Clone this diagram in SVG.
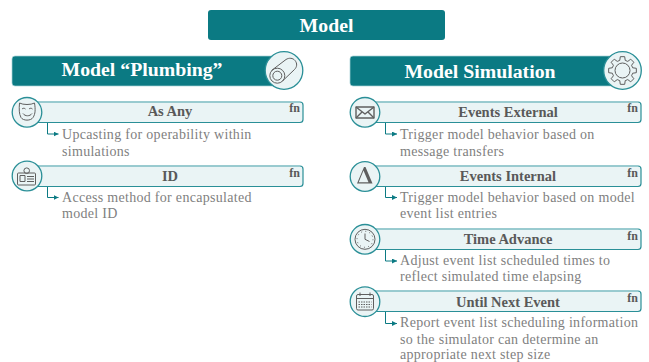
<svg xmlns="http://www.w3.org/2000/svg" width="649" height="362" viewBox="0 0 649 362">
<style>
.bar{fill:#0b7a83}
.sec{stroke:#a6d3d7;stroke-width:.7}
.title{font:bold 19.800px "Liberation Serif",serif;fill:#fff;text-anchor:middle}
.hd{fill:#eaf4f5;stroke:#2a8f97;stroke-width:1.200}
.top{fill:none;stroke:#9ccdd2;stroke-width:1.500}
.h{font:bold 14.500px "Liberation Serif",serif;fill:#595959;text-anchor:middle}
.fn{font:bold 12px "Liberation Serif",serif;fill:#595959;text-anchor:end}
.b{font:14px "Liberation Serif",serif;fill:#7f7f7f;letter-spacing:.3px}
.c{fill:#eaf4f5;stroke:#2a8f97;stroke-width:1.300}
.i{fill:none;stroke:#5f5f5f;stroke-width:1;stroke-linejoin:round}
.l{fill:none;stroke:#0b7a83;stroke-width:1;marker-end:url(#a)}
</style>
<defs>
<marker id="a" markerWidth="6" markerHeight="6" refX="5" refY="2.500" orient="auto" markerUnits="userSpaceOnUse"><path d="M0 0L5 2.500L0 5z" fill="#0b7a83"/></marker>
<path id="gq" d="M13.830 -2.190L13.830 2.190L10.140 2.720L9.090 5.250L11.330 8.230L8.230 11.330L5.250 9.090L2.720 10.140L2.190 13.830"/>
</defs>
<g id="connectors">
<path class="l" d="M47.500 122V134H58.500"/>
<path class="l" d="M47.500 186V197.500H58.500"/>
<path class="l" d="M385.500 122V134H397"/>
<path class="l" d="M385.500 186V197.500H397"/>
<path class="l" d="M385.500 249V261H397"/>
<path class="l" d="M385.500 312V323.500H397"/>
</g>
<g id="model"><rect class="bar" x="208" y="10" width="237" height="30" rx="3"/><text class="title" x="326.500" y="32">Model</text></g>
<g id="plumbing"><rect class="bar sec" x="12" y="56" width="274" height="30" rx="3"/><text class="title" x="142" y="76">Model “Plumbing”</text>
<circle class="c" cx="284" cy="70.500" r="18.800"/>
<g class="i"><circle cx="277.300" cy="75.700" r="7.500"/><circle cx="277.300" cy="75.700" r="4.500"/><path d="M271.500 70.500L286 59.500C289 57.500 293 58 295 60.500C297.500 63.500 297 67 294.500 69.500L282.500 81"/></g></g>
<g id="simulation"><rect class="bar sec" x="350" y="56" width="274" height="30" rx="3"/><text class="title" x="480" y="78">Model Simulation</text>
<circle class="c" cx="622.500" cy="70.500" r="18.800"/>
<g class="i" transform="translate(622.500 70.500)"><circle r="7.500"/><use href="#gq"/><use href="#gq" transform="rotate(90)"/><use href="#gq" transform="rotate(180)"/><use href="#gq" transform="rotate(270)"/></g></g>
<g id="as-any"><rect class="hd" x="27" y="102" width="276" height="20.500" rx="3"/><path class="top" d="M30 102H300"/><text class="h" x="170" y="115.500">As Any</text><text class="fn" x="300" y="112">fn</text>
<circle class="c" cx="27" cy="112.300" r="14.800"/>
<g class="i"><path d="M19.500 103C23 105 31 105 34.500 103C35.500 109 35.500 114 33 117.500C31 121 23 121 21 117.500C19 114 19 109 19.500 103Z"/><path d="M23 113.500C25 116.500 30 116.500 32 113.500M22 109C23 108 24.500 108 25.500 109M29 109C30 108 31.500 108 32.500 109"/></g>
<text class="b" x="62" y="139">Upcasting for operability within</text><text class="b" x="62" y="155.500">simulations</text></g>
<g id="id"><rect class="hd" x="27" y="166" width="276" height="20.500" rx="3"/><path class="top" d="M30 166H300"/><text class="h" x="170" y="181">ID</text><text class="fn" x="300" y="176.500">fn</text>
<circle class="c" cx="27" cy="176" r="14.800"/>
<g class="i"><rect x="17.500" y="173" width="18" height="12" rx="1"/><circle cx="26.700" cy="170.700" r="2.800"/><rect x="20" y="175.500" width="5" height="6"/><path d="M27 176.500H34M27 179H34M27 181.500H34"/></g>
<text class="b" x="62" y="201.700">Access method for encapsulated</text><text class="b" x="62" y="218">model ID</text></g>
<g id="events-external"><rect class="hd" x="365" y="102" width="276" height="20.500" rx="3"/><path class="top" d="M368 102H638"/><text class="h" x="508" y="116.500">Events External</text><text class="fn" x="638" y="112">fn</text>
<circle class="c" cx="365" cy="112.300" r="14.800"/>
<g class="i" style="stroke-width:1.400"><rect x="356" y="107" width="18" height="11"/><path d="M356 107L365 114L374 107M356 118L362 112M374 118L368 112"/></g>
<text class="b" x="400" y="139">Trigger model behavior based on</text><text class="b" x="400" y="155.500">message transfers</text></g>
<g id="events-internal"><rect class="hd" x="365" y="166" width="276" height="20.500" rx="3"/><path class="top" d="M368 166H638"/><text class="h" x="508" y="181">Events Internal</text><text class="fn" x="638" y="176.500">fn</text>
<circle class="c" cx="365" cy="176.500" r="14.800"/>
<path fill="#5f5f5f" fill-rule="evenodd" d="M364 167H365.500L372.500 183.500H357ZM363.500 170.500L358.700 182.300H368.500Z"/>
<text class="b" x="400" y="201.700">Trigger model behavior based on model</text><text class="b" x="400" y="218">event list entries</text></g>
<g id="time-advance"><rect class="hd" x="365" y="229" width="276" height="20.500" rx="3"/><path class="top" d="M368 229H638"/><text class="h" x="508" y="244">Time Advance</text><text class="fn" x="638" y="239.500">fn</text>
<circle class="c" cx="365" cy="239.300" r="14.800"/>
<g class="i"><circle cx="365" cy="239.300" r="10"/><circle cx="365" cy="239.300" r="8" stroke-dasharray="1 3.190"/><path d="M365 239.300V233.500M365 239.300L369.500 241.500"/></g>
<text class="b" x="400" y="264.500">Adjust event list scheduled times to</text><text class="b" x="400" y="281">reflect simulated time elapsing</text></g>
<g id="until-next-event"><rect class="hd" x="365" y="291" width="276" height="20.500" rx="3"/><path class="top" d="M368 291H638"/><text class="h" x="508" y="307">Until Next Event</text><text class="fn" x="638" y="301.500">fn</text>
<circle class="c" cx="365" cy="301.700" r="14.800"/>
<g class="i"><rect x="356.500" y="294.500" width="17" height="15.500" rx="1.500"/><path d="M356.500 298.500H373.500M360 292.500V296M370 292.500V296"/><path stroke-dasharray="1.500 1" d="M358.500 302H371.500M358.500 304.500H371.500M358.500 307H371.500"/></g>
<text class="b" x="400" y="327">Report event list scheduling information</text><text class="b" x="400" y="343.500">so the simulator can determine an</text><text class="b" x="400" y="358.800">appropriate next step size</text></g>
</svg>
